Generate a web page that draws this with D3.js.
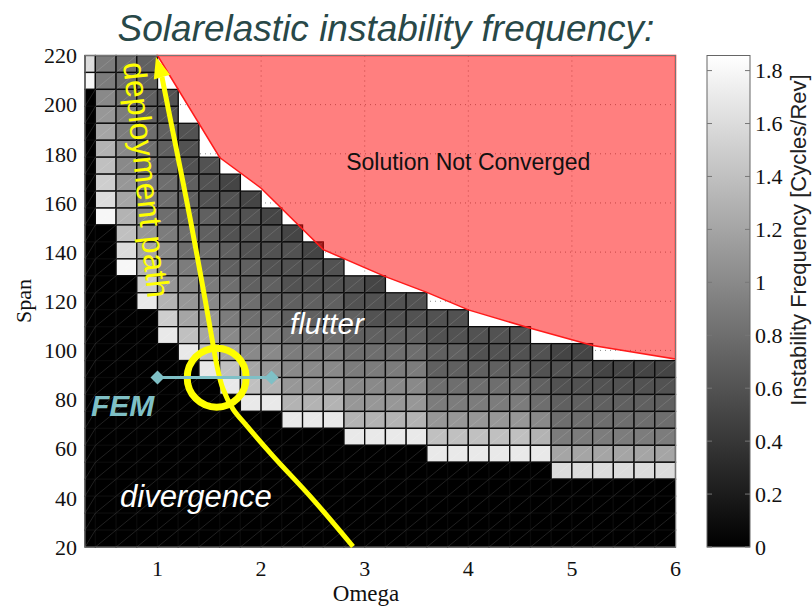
<!DOCTYPE html>
<html>
<head>
<meta charset="utf-8">
<script src="https://cdn.jsdelivr.net/npm/d3@7"></script>
<style>
  html, body { margin: 0; padding: 0; background: #fff; }
  svg { display: block; }
</style>
</head>
<body>
<svg id="chart"></svg>
<script>
// axis ticks
const omegaTicks = [1, 2, 3, 4, 5, 6];
const spanTicks = [20, 40, 60, 80, 100, 120, 140, 160, 180, 200, 220];
const freqTicks = [0, 0.2, 0.4, 0.6, 0.8, 1, 1.2, 1.4, 1.6, 1.8];
const freqMax = 1.857;

// cell edges of the omega / span grid
const omegaEdges = [0.3].concat(d3.range(0.4, 6.001, 0.2));
const spanEdges = d3.range(30).map(i => 20 + i * 200 / 29);

// instability frequency per cell, top row (span 220) first, one char per omega column.
// "." = solution not converged, "0".."9","A".."I" = frequency x10 (0 = divergence)
const freqCodes = "0123456789ABCDEFGHI";
const freqRows = [
  "G987",
  "I987",
  "0A876",
  "0B976",
  "0C9876",
  "0DA876",
  "0EA8766",
  "0FB98765",
  "0GC987665",
  "0IDA877665",
  "00EB9876665",
  "00GCA8876665",
  "00IDA98776666",
  "000FBA987766665",
  "000HDBA9877776666",
  "0000FCB988777766666",
  "0000HECA99888777766666",
  "00000HECAA999888877666655",
  "000000HECBAAA9999777776665555",
  "0000000HEDBBBAAAA888887666666",
  "00000000HHDDDBBBB999998777777",
  "0000000000HHHDDDDBBBBBA888888",
  "0000000000000HHHHEEEEED999999",
  "00000000000000000HHHHHHCCCCCC",
  "00000000000000000000000GGGGGG",
  "00000000000000000000000000000",
  "00000000000000000000000000000",
  "00000000000000000000000000000",
  "00000000000000000000000000000"
].map(r => r.padEnd(29, "."));

// not-converged boundary (omega, span)
const ncOmega = [1.0, 1.6, 2.0, 2.6, 3.2, 3.6, 4.0, 4.6, 5.2, 6.0];
const ncSpan = [220, 178.5, 166, 141, 130, 123.6, 116.5, 109, 102, 96.5];

// deployment path (omega, span), bottom to arrow tip
const pathOmega = [2.887, 2.50, 2.115, 1.864, 1.729, 1.632, 1.574, 1.526, 1.458, 1.313, 1.217, 1.12, 1.043, 0.985];
const pathSpan = [20.2, 39.4, 57.0, 69.2, 76.1, 84.3, 93.7, 104.7, 121.0, 154.1, 174.5, 194.9, 211.2, 219.4];

// FEM bar and highlight ring
const femOmega = [1.0, 2.1];
const femSpan = 89;
const ringOmega = 1.571, ringSpan = 88.9;

const width = 812, height = 607;
const plot = {left: 85, right: 675.5, top: 55.5, bottom: 547};
const cbar = {left: 707, width: 43};

const svg = d3.select("#chart").attr("width", width).attr("height", height);

const x = d3.scaleLinear().domain([0.3, 6]).range([plot.left, plot.right]);
const y = d3.scaleLinear().domain([20, 220]).range([plot.bottom, plot.top]);
const c = d3.scaleLinear().domain([0, freqMax]).range(["#000", "#fff"]);
const cy = d3.scaleLinear().domain([0, freqMax]).range([plot.bottom, plot.top]);

const serif = "'Liberation Serif', 'Times New Roman', serif";
const sans = "'Liberation Sans', Arial, sans-serif";

svg.append("rect").attr("width", width).attr("height", height).attr("fill", "#fff");

// title
svg.append("text")
    .attr("x", 386).attr("y", 41)
    .attr("text-anchor", "middle")
    .style("font-family", sans).style("font-size", "37px").style("font-style", "italic")
    .attr("fill", "#284848")
    .text("Solarelastic instability frequency:");

// dotted grid under the cells
const grid = svg.append("g").attr("stroke", "#8a8a8a").attr("stroke-dasharray", "1,4").attr("stroke-width", 1);
grid.selectAll("line.v").data(omegaTicks.filter(d => d < 6)).join("line")
    .attr("class", "v")
    .attr("x1", d => x(d)).attr("x2", d => x(d))
    .attr("y1", plot.top).attr("y2", plot.bottom);
grid.selectAll("line.h").data(spanTicks.filter(d => d > 20 && d < 220)).join("line")
    .attr("class", "h")
    .attr("x1", plot.left).attr("x2", plot.right)
    .attr("y1", d => y(d)).attr("y2", d => y(d));

// cells
let cells = [];
freqRows.forEach((row, r) => {
    for (let k = 0; k < row.length; k++) {
        let ch = row[k];
        if (ch === ".") continue;
        cells.push({
            o0: omegaEdges[k], o1: omegaEdges[k + 1],
            s0: spanEdges[28 - r], s1: spanEdges[29 - r],
            value: freqCodes.indexOf(ch) / 10
        });
    }
});

const cellG = svg.append("g");
cellG.selectAll("rect").data(cells).join("rect")
    .attr("x", d => x(d.o0))
    .attr("y", d => y(d.s1))
    .attr("width", d => x(d.o1) - x(d.o0))
    .attr("height", d => y(d.s0) - y(d.s1))
    .attr("fill", d => c(d.value))
    .attr("stroke", "#0a0a0a")
    .attr("stroke-width", 1.3);

// faint diagonal seam in every cell
cellG.selectAll("line").data(cells).join("line")
    .attr("x1", d => x(d.o0)).attr("y1", d => y(d.s0))
    .attr("x2", d => x(d.o1)).attr("y2", d => y(d.s1))
    .attr("stroke", "#fff").attr("stroke-opacity", 0.13).attr("stroke-width", 1);

// not converged region
let ncPts = ncOmega.map((o, i) => [x(o), y(ncSpan[i])]);
ncPts.push([x(6), y(220)]);
svg.append("path")
    .attr("d", d3.line()(ncPts) + "Z")
    .attr("fill", "#ff0000").attr("fill-opacity", 0.5)
    .attr("stroke", "#ff1a1a").attr("stroke-width", 1.5);

svg.append("text")
    .attr("x", x(4.0)).attr("y", y(173.4))
    .attr("text-anchor", "middle")
    .style("font-family", sans).style("font-size", "23px")
    .attr("fill", "#111")
    .text("Solution Not Converged");

// axes box
svg.append("rect")
    .attr("x", plot.left).attr("y", plot.top)
    .attr("width", plot.right - plot.left).attr("height", plot.bottom - plot.top)
    .attr("fill", "none").attr("stroke", "#777").attr("stroke-width", 1);

// tick labels
svg.append("g").selectAll("text").data(spanTicks).join("text")
    .attr("x", plot.left - 8).attr("y", d => y(d)).attr("dy", "0.35em")
    .attr("text-anchor", "end")
    .style("font-family", serif).style("font-size", "22px").attr("fill", "#111")
    .text(d => d);

svg.append("g").selectAll("text").data(omegaTicks).join("text")
    .attr("x", d => x(d)).attr("y", 576)
    .attr("text-anchor", "middle")
    .style("font-family", serif).style("font-size", "22px").attr("fill", "#111")
    .text(d => d);

svg.append("text")
    .attr("transform", "translate(31,301) rotate(-90)")
    .attr("text-anchor", "middle")
    .style("font-family", serif).style("font-size", "22px").attr("fill", "#111")
    .text("Span");

svg.append("text")
    .attr("x", 366).attr("y", 601)
    .attr("text-anchor", "middle")
    .style("font-family", serif).style("font-size", "23px").attr("fill", "#111")
    .text("Omega");

// colorbar
const defs = svg.append("defs");
const grad = defs.append("linearGradient").attr("id", "cbar-grad")
    .attr("x1", 0).attr("y1", 1).attr("x2", 0).attr("y2", 0);
grad.append("stop").attr("offset", "0%").attr("stop-color", "#000");
grad.append("stop").attr("offset", "100%").attr("stop-color", "#fff");

svg.append("rect")
    .attr("x", cbar.left).attr("y", plot.top)
    .attr("width", cbar.width).attr("height", plot.bottom - plot.top)
    .attr("fill", "url(#cbar-grad)")
    .attr("stroke", "#666").attr("stroke-width", 1);

const cbTicks = svg.append("g").attr("stroke", "#777").attr("stroke-width", 1);
cbTicks.selectAll("line.l").data(freqTicks).join("line").attr("class", "l")
    .attr("x1", cbar.left).attr("x2", cbar.left + 5)
    .attr("y1", d => cy(d)).attr("y2", d => cy(d));
cbTicks.selectAll("line.r").data(freqTicks).join("line").attr("class", "r")
    .attr("x1", cbar.left + cbar.width - 5).attr("x2", cbar.left + cbar.width)
    .attr("y1", d => cy(d)).attr("y2", d => cy(d));

svg.append("g").selectAll("text").data(freqTicks).join("text")
    .attr("x", cbar.left + cbar.width + 5).attr("y", d => cy(d)).attr("dy", "0.35em")
    .style("font-family", serif).style("font-size", "22px").attr("fill", "#111")
    .text(d => d);

svg.append("text")
    .attr("transform", "translate(806,240) rotate(-90)")
    .attr("text-anchor", "middle")
    .style("font-family", sans).style("font-size", "22px").attr("fill", "#222")
    .text("Instability Frequency [Cycles/Rev]");

// annotations
svg.append("text")
    .attr("x", x(2.279)).attr("y", y(106.7))
    .style("font-family", sans).style("font-size", "29.5px").style("font-style", "italic")
    .attr("fill", "#fff")
    .text("flutter");

svg.append("text")
    .attr("x", x(0.638)).attr("y", y(36.3))
    .style("font-family", sans).style("font-size", "31px").style("font-style", "italic")
    .attr("fill", "#fff")
    .text("divergence");

svg.append("text")
    .attr("transform", `translate(${x(0.667)},${y(216.8)}) rotate(84)`)
    .style("font-family", sans).style("font-size", "32px")
    .attr("fill", "#ffff00")
    .text("deployment path");

// deployment path with arrow head
const pts = pathOmega.map((o, i) => [x(o), y(pathSpan[i])]);
const tip = pts[pts.length - 1];
const prev = pts[pts.length - 2];
let dx = tip[0] - prev[0], dy = tip[1] - prev[1];
const len = Math.hypot(dx, dy);
dx /= len; dy /= len;
const headLen = 21, headHalf = 8.5;
const base = [tip[0] - dx * headLen, tip[1] - dy * headLen];
const linePts = pts.slice(0, -2).concat([base]);

svg.append("path")
    .attr("d", d3.line().curve(d3.curveCatmullRom)(linePts))
    .attr("fill", "none").attr("stroke", "#ffff00").attr("stroke-width", 5)
    .attr("stroke-linecap", "butt");

svg.append("path")
    .attr("d", d3.line()([
        tip,
        [base[0] - dy * headHalf, base[1] + dx * headHalf],
        [base[0] + dy * headHalf, base[1] - dx * headHalf]
    ]) + "Z")
    .attr("fill", "#ffff00");

svg.append("circle")
    .attr("cx", x(ringOmega)).attr("cy", y(ringSpan))
    .attr("r", 29.5)
    .attr("fill", "none").attr("stroke", "#ffff00").attr("stroke-width", 7);

// FEM bar
const teal = "#7fc0c6";
svg.append("line")
    .attr("x1", x(femOmega[0])).attr("x2", x(femOmega[1]))
    .attr("y1", y(femSpan)).attr("y2", y(femSpan))
    .attr("stroke", teal).attr("stroke-width", 3);
svg.append("g").selectAll("path").data(femOmega).join("path")
    .attr("transform", d => `translate(${x(d)},${y(femSpan)})`)
    .attr("d", "M0,-7L7,0L0,7L-7,0Z")
    .attr("fill", teal);

svg.append("text")
    .attr("x", x(0.358)).attr("y", y(73.3))
    .style("font-family", sans).style("font-size", "30px")
    .style("font-style", "italic").style("font-weight", "bold")
    .attr("fill", teal)
    .text("FEM");
</script>
</body>
</html>
